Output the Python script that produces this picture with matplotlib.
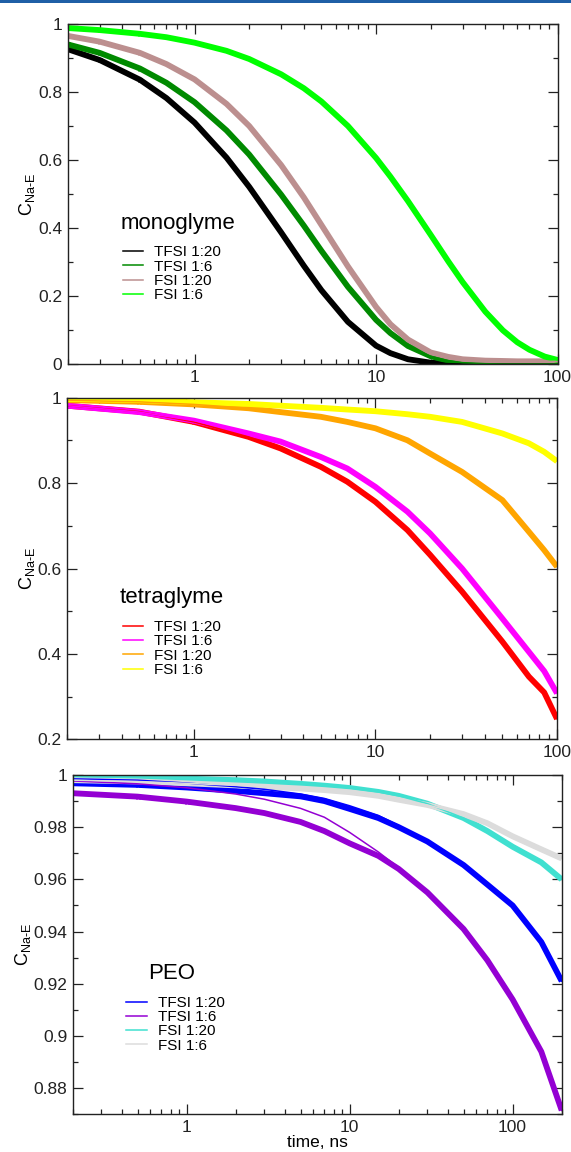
import numpy as np
import matplotlib
matplotlib.use('Agg')
import matplotlib.pyplot as plt
from matplotlib.patches import Rectangle
from matplotlib.ticker import MultipleLocator, FormatStrFormatter, LogLocator

plt.rcParams['font.family'] = ['Liberation Sans', 'DejaVu Sans']
plt.rcParams['mathtext.fontset'] = 'custom'
plt.rcParams['mathtext.rm'] = 'Liberation Sans'
plt.rcParams['mathtext.it'] = 'Liberation Sans'

labels = ['TFSI 1:20', 'TFSI 1:6', 'FSI 1:20', 'FSI 1:6']

# monoglyme
t_mono = [0.2, 0.3, 0.5, 0.7, 1, 1.5, 2, 3, 4, 5, 7, 10, 12, 15, 20, 25, 30, 40, 50, 60, 70, 85, 100]
mono_tfsi20 = [0.926, 0.894, 0.836, 0.782, 0.710, 0.607, 0.521, 0.387, 0.289, 0.217, 0.124, 0.054, 0.032, 0.014, 0.004, 0.001, 0.0, 0.0, 0.0, 0.0, 0.0, 0.0, 0.0]
mono_tfsi6 = [0.940, 0.915, 0.869, 0.827, 0.770, 0.687, 0.616, 0.498, 0.407, 0.333, 0.227, 0.130, 0.091, 0.053, 0.023, 0.010, 0.004, 0.001, 0.0, 0.0, 0.0, 0.0, 0.0]
mono_fsi20 = [0.965, 0.948, 0.915, 0.882, 0.837, 0.765, 0.700, 0.585, 0.490, 0.409, 0.287, 0.168, 0.117, 0.072, 0.034, 0.021, 0.014, 0.010, 0.009, 0.008, 0.008, 0.008, 0.008]
mono_fsi6 = [0.988, 0.982, 0.971, 0.961, 0.945, 0.921, 0.897, 0.852, 0.811, 0.772, 0.700, 0.606, 0.551, 0.479, 0.380, 0.302, 0.241, 0.154, 0.099, 0.064, 0.042, 0.022, 0.012]

# tetraglyme
t_tetra = [0.2, 0.5, 1, 2, 3, 5, 7, 10, 15, 20, 30, 50, 70, 85, 100]
tetra_tfsi20 = [0.981, 0.967, 0.943, 0.908, 0.881, 0.838, 0.803, 0.756, 0.690, 0.632, 0.546, 0.429, 0.347, 0.310, 0.248]
tetra_tfsi6 = [0.981, 0.966, 0.946, 0.916, 0.897, 0.861, 0.834, 0.791, 0.733, 0.682, 0.600, 0.483, 0.405, 0.360, 0.308]
tetra_fsi20 = [0.994, 0.990, 0.984, 0.975, 0.966, 0.955, 0.943, 0.928, 0.900, 0.869, 0.826, 0.760, 0.686, 0.643, 0.604]
tetra_fsi6 = [0.997, 0.994, 0.989, 0.985, 0.981, 0.976, 0.972, 0.968, 0.961, 0.955, 0.943, 0.916, 0.893, 0.873, 0.851]

# PEO
t_peo = [0.2, 0.5, 1, 2, 3, 5, 7, 10, 15, 20, 30, 50, 70, 100, 150, 200]
peo_tfsi20 = [0.9968, 0.9962, 0.9952, 0.9939, 0.9930, 0.9918, 0.9900, 0.9870, 0.9835, 0.9800, 0.9745, 0.9655, 0.9580, 0.9500, 0.9360, 0.9210]
peo_tfsi6 = [0.9930, 0.9917, 0.9898, 0.9873, 0.9854, 0.9820, 0.9785, 0.9738, 0.9690, 0.9640, 0.9550, 0.9410, 0.9290, 0.9140, 0.8940, 0.8715]
peo_fsi20 = [0.9990, 0.9988, 0.9986, 0.9980, 0.9975, 0.9966, 0.9959, 0.9950, 0.9935, 0.9920, 0.9890, 0.9835, 0.9785, 0.9725, 0.9665, 0.9600]
peo_fsi6 = [0.9980, 0.9975, 0.9968, 0.9960, 0.9955, 0.9948, 0.9942, 0.9934, 0.9920, 0.9905, 0.9885, 0.9850, 0.9815, 0.9765, 0.9715, 0.9680]
# fitted curves (thin lines)
fit_tfsi20 = [0.9985, 0.9980, 0.9969, 0.9955, 0.9945, 0.9927, 0.9910, 0.9882, 0.9845, 0.9806, 0.9748, 0.9655, 0.9580, 0.9500, 0.9360, 0.9210]
fit_tfsi6 = [0.9977, 0.9966, 0.9951, 0.9927, 0.9907, 0.9872, 0.9838, 0.9780, 0.9705, 0.9645, 0.9550, 0.9410, 0.9290, 0.9140, 0.8940, 0.8715]
fit_fsi20 = [0.9995, 0.9992, 0.9989, 0.9982, 0.9976, 0.9967, 0.9960, 0.9950, 0.9935, 0.9920, 0.9890, 0.9835, 0.9785, 0.9725, 0.9665, 0.9600]

W, H = 571, 1152
fig = plt.figure(figsize=(W / 100, H / 100), dpi=100)
fig.add_artist(Rectangle((0, 1 - 2.5 / H), 1, 2.5 / H, transform=fig.transFigure,
                         color='#1f5fa6', lw=0))

ylab = r'C$_{\rm Na\text{-}E}$'


def setup(ax, xlim, ylim, major, minor):
    ax.set_xscale('log')
    ax.set_xlim(*xlim)
    ax.set_ylim(*ylim)
    ax.xaxis.set_major_locator(LogLocator(base=10, numticks=10))
    ax.xaxis.set_minor_locator(LogLocator(base=10, subs=np.arange(2, 10), numticks=20))
    ax.xaxis.set_major_formatter(FormatStrFormatter('%g'))
    ax.yaxis.set_major_locator(MultipleLocator(major))
    ax.yaxis.set_minor_locator(MultipleLocator(minor))
    ax.yaxis.set_major_formatter(FormatStrFormatter('%g'))
    ax.tick_params(which='both', direction='in', top=True, right=True, width=0.9,
                   labelsize=12.5, colors='#222222', pad=4)
    ax.tick_params(which='major', length=7)
    ax.tick_params(which='minor', length=3.5)
    for s in ax.spines.values():
        s.set_linewidth(1.0)
        s.set_color('#222222')


def panel(ax, t, data, fits, colors, name, name_x, leg_x):
    for y, c in zip(data, colors):
        ax.plot(t, y, '-', color=c, lw=4.2, solid_capstyle='butt', solid_joinstyle='round')
        ax.plot(t[:3], y[:3], 'x', color=c, ms=3.5, mew=1.0)
    handles = []
    for y, c, lab in zip(fits, colors, labels):
        h, = ax.plot(t, y, '-', color=c, lw=1.1, label=lab)
        handles.append(h)
    ax.text(name_x, 0.398, name, transform=ax.transAxes, fontsize=16, va='baseline', ha='left')
    ax.legend(handles=handles, loc='upper left', bbox_to_anchor=(leg_x, 0.349), frameon=False,
              fontsize=11, handlelength=1.35, handletextpad=0.7, labelspacing=0.02,
              borderpad=0, borderaxespad=0)


# top: monoglyme
ax1 = fig.add_axes([0.1186, 0.6840, 0.8578, 0.2952])
setup(ax1, (0.2, 100), (0, 1), 0.2, 0.1)
c1 = ['black', '#008a00', '#bc8f8f', '#00ff00']
d1 = [mono_tfsi20, mono_tfsi6, mono_fsi20, mono_fsi6]
panel(ax1, t_mono, d1, d1, c1, 'monoglyme', 0.108, 0.112)
ax1.set_ylabel(ylab, fontsize=13)
ax1.yaxis.set_label_coords(-0.062, 0.5)

# middle: tetraglyme
ax2 = fig.add_axes([0.1173, 0.3581, 0.8582, 0.2968])
setup(ax2, (0.2, 100), (0.2, 1), 0.2, 0.1)
c2 = ['#ff0000', '#ff00ff', '#ffa500', '#ffff00']
d2 = [tetra_tfsi20, tetra_tfsi6, tetra_fsi20, tetra_fsi6]
panel(ax2, t_tetra, d2, d2, c2, 'tetraglyme', 0.108, 0.114)
ax2.set_ylabel(ylab, fontsize=13)
ax2.yaxis.set_label_coords(-0.062, 0.5)

# bottom: PEO
ax3 = fig.add_axes([0.1273, 0.0327, 0.8564, 0.2946])
setup(ax3, (0.2, 200), (0.87, 1), 0.02, 0.01)
c3 = ['#0000ff', '#9400d3', '#40e0d0', '#dcdcdc']
d3 = [peo_tfsi20, peo_tfsi6, peo_fsi20, peo_fsi6]
f3 = [fit_tfsi20, fit_tfsi6, fit_fsi20, peo_fsi6]
panel(ax3, t_peo, d3, f3, c3, 'PEO', 0.154, 0.110)
ax3.set_ylabel(ylab, fontsize=13)
ax3.yaxis.set_label_coords(-0.082, 0.5)
ax3.set_xlabel('time, ns', fontsize=12.5, labelpad=0)

fig.savefig('out.png', dpi=100)
